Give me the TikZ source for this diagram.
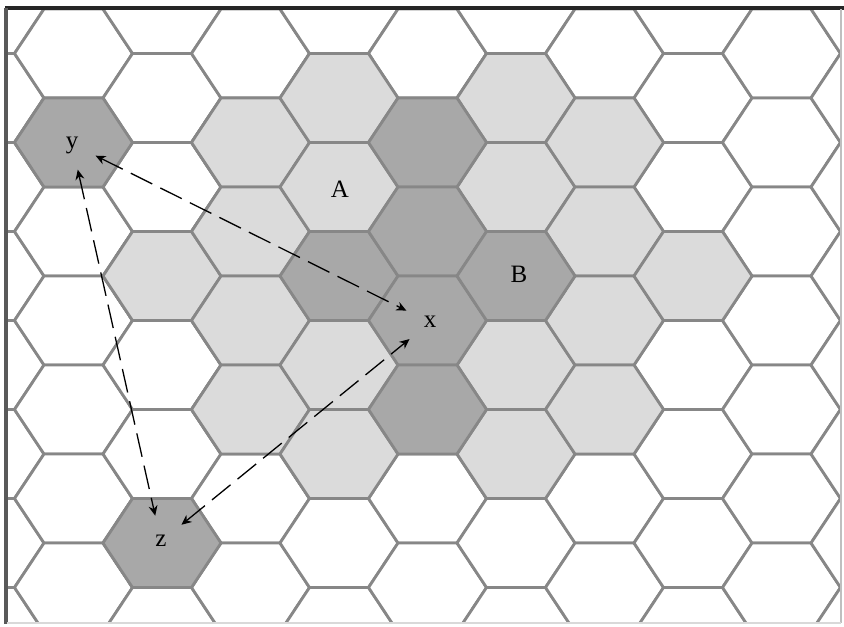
\documentclass[tikz,border=0pt]{standalone}
\usepackage{fontspec}
\setmainfont{Liberation Serif}
\usetikzlibrary{arrows.meta}
\tikzset{
    % Grey outline shared by every cell of the grid
    cell edge/.style={draw=black!47, line width=1.4pt, line join=round},
%
    % Cells left blank
    plain fill/.style={fill=white},
    % Pale shading for the ring of cells
    light fill/.style={fill=black!14},
    % Darker shading for the marked cells
    dark fill/.style={fill=black!34},
%
    % Letter in a cell; the circle keeps the arrow heads off the letter
    site/.style={circle, inner sep=0, minimum size=26pt, anchor=base,
        text height=1ex, text depth=0pt, font=\fontsize{12.5}{14}\selectfont},
%
    % Dashed link with a head at both ends
    link/.style={{Stealth[length=5pt,width=4.5pt]}-{Stealth[length=5pt,width=4.5pt]},
        line width=0.65pt, dash pattern=on 12pt off 4.5pt}}

\begin{document}
\begin{tikzpicture}[x=0.5pt, y=-0.5pt]
\useasboundingbox (0,0) rectangle (844,626);

% Draws the cell in column #1 and row #2 with fill style #3
\newcommand{\hexcell}[3]{
\pgfmathsetmacro{\hx}{73.5+88.5*#1}
\pgfmathsetmacro{\hy}{53.5+89*#2+44.5*mod(#1,2)}
\path [cell edge, #3] (\hx,\hy) ++(-59,0) -- ++(29.5,-44.5) -- ++(59,0)
    -- ++(29.5,44.5) -- ++(-29.5,44.5) -- ++(-59,0) -- cycle;
}

% The grid, cut off by the frame
\begin{scope}
\clip (7,9) rectangle (841,623);
\foreach \c in {-1,...,9}
    \foreach \r in {-1,...,7}
        {\hexcell{\c}{\r}{plain fill}}
\foreach \c/\r in {1/2, 2/1, 2/2, 2/3, 2/4, 3/0, 3/1, 3/3, 3/4,
    5/0, 5/1, 5/3, 5/4, 6/1, 6/2, 6/3, 6/4, 7/2}
    {\hexcell{\c}{\r}{light fill}}
\foreach \c/\r in {0/1, 1/5, 3/2, 4/1, 4/2, 4/3, 4/4, 5/2}
    {\hexcell{\c}{\r}{dark fill}}
\end{scope}

% Frame
\draw [black!85, line width=1.8pt] (5,8) -- (844,8);
\draw [black!65, line width=1.6pt] (6,8) -- (6,624);
\draw [black!25, line width=0.8pt] (841,9) -- (841,623);
\draw [black!15, line width=0.8pt] (7,623) -- (841,623);

% Letters
\node [site] (site y) at (72,148.5) {y};
\node [site] (site x) at (430,327) {x};
\node [site] (site z) at (161,546) {z};
\node [site] (site A) at (340,197) {A};
\node [site] (site B) at (519,282) {B};

% Links
\draw [link] (site y) -- (site x);
\draw [link] (site y) -- (site z);
\draw [link] (site z) -- (site x);

\end{tikzpicture}
\end{document}
